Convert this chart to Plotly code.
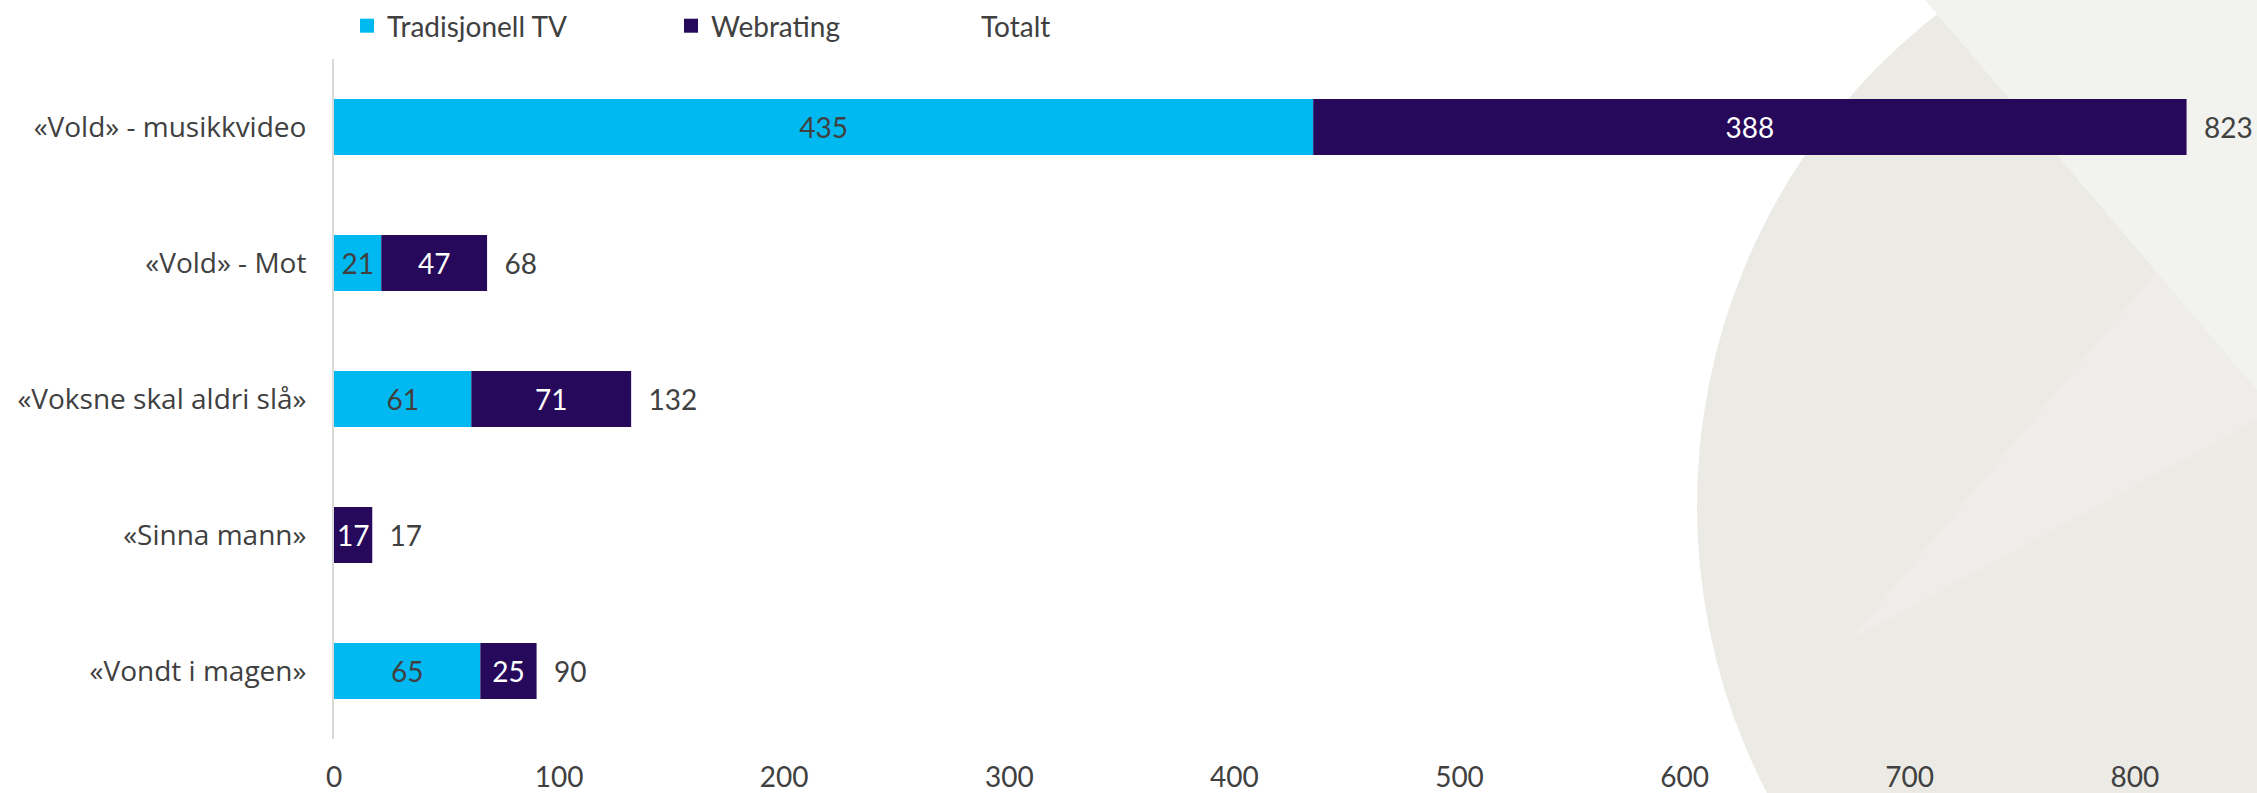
import plotly.graph_objects as go

categories = ["«Vold» - musikkvideo", "«Vold» - Mot", "«Voksne skal aldri slå»", "«Sinna mann»", "«Vondt i magen»"]
tradisjonell_tv = [435, 21, 61, 0, 65]
webrating = [388, 47, 71, 17, 25]
totalt = [823, 68, 132, 17, 90]
x_ticks = [0, 100, 200, 300, 400, 500, 600, 700, 800]

W, H = 2257, 793
L, R, T, B = 334, 0, 59, 54
PW, PH = W - L - R, H - T - B
PX_PER_UNIT = 2.251

def px(x):
    return (x - L) / PW

def py(y):
    return (H - B - y) / PH

TXT = "#404040"
BLUE = "#00B9F1"
PURPLE = "#26095A"
CAL = "Lato, Carlito, Calibri, sans-serif"
SEG = "Open Sans, Segoe UI, sans-serif"

fig = go.Figure()
fig.add_trace(go.Bar(
    y=categories, x=tradisjonell_tv, orientation="h", name="Tradisjonell TV",
    marker=dict(color=BLUE, line=dict(width=0)),
    text=[str(v) if v else "" for v in tradisjonell_tv], textposition="inside",
    insidetextanchor="middle", textfont=dict(family=CAL, size=28, color=TXT),
    showlegend=False,
))
fig.add_trace(go.Bar(
    y=categories, x=webrating, base=tradisjonell_tv, orientation="h", name="Webrating",
    marker=dict(color=PURPLE, line=dict(width=0)),
    text=[str(v) for v in webrating], textposition="inside",
    insidetextanchor="middle", textfont=dict(family=CAL, size=28, color="white"),
    showlegend=False,
))
fig.add_trace(go.Bar(
    y=categories, x=totalt, orientation="h", name="Totalt",
    marker=dict(color="rgba(0,0,0,0)", line=dict(width=0)),
    text=["\u00a0\u00a0" + str(v) for v in totalt], textposition="outside",
    textfont=dict(family=CAL, size=28, color=TXT), cliponaxis=False,
    showlegend=False,
))

# legend entries
fig.add_trace(go.Scatter(x=[None], y=[None], mode="markers", name="Tradisjonell TV",
                         marker=dict(symbol="square", size=14, color=BLUE), legend="legend"))
fig.add_trace(go.Scatter(x=[None], y=[None], mode="markers", name="Webrating",
                         marker=dict(symbol="square", size=14, color=PURPLE), legend="legend2"))
fig.add_trace(go.Scatter(x=[None], y=[None], mode="markers", name="Totalt",
                         marker=dict(symbol="square", size=14, color="rgba(0,0,0,0)"), legend="legend3"))

shapes = [
    dict(type="circle", xref="paper", yref="paper", layer="below",
         x0=px(2321 - 624), x1=px(2321 + 624), y0=py(506 + 624), y1=py(506 - 624),
         fillcolor="#EBEAE5", line=dict(width=0)),
    dict(type="path", xref="paper", yref="paper", layer="below",
         path=f"M {px(2257)} {py(150)} L {px(1850)} {py(640)} L {px(2257)} {py(420)} Z",
         fillcolor="#EEEDE9", line=dict(width=0)),
    dict(type="path", xref="paper", yref="paper", layer="below",
         path=f"M {px(1925)} {py(0)} L {px(2257)} {py(0)} L {px(2257)} {py(390)} Z",
         fillcolor="#F2F2EF", line=dict(width=0)),
]

leg_common = dict(orientation="h", yanchor="middle", xanchor="left", bgcolor="rgba(0,0,0,0)",
                  font=dict(family=CAL, size=28, color=TXT))

fig.update_layout(
    width=W, height=H,
    margin=dict(l=L, r=R, t=T, b=B, autoexpand=False),
    barmode="overlay", bargap=0.59,
    paper_bgcolor="white", plot_bgcolor="rgba(0,0,0,0)",
    shapes=shapes,
    legend=dict(x=px(347), y=py(26), **leg_common),
    legend2=dict(x=px(671), y=py(26), **leg_common),
    legend3=dict(x=px(941), y=py(26), **leg_common),
    xaxis=dict(range=[0, PW / PX_PER_UNIT], tickvals=x_ticks, showgrid=False, zeroline=False,
               showline=False, ticks="", ticklabelstandoff=19, automargin=False,
               tickfont=dict(family=CAL, size=28, color=TXT)),
    yaxis=dict(autorange="reversed", showgrid=False, zeroline=False, showline=True,
               linecolor="#D9D9D9", linewidth=2, ticks="", ticklabelstandoff=20, automargin=False,
               tickfont=dict(family=SEG, size=28, color=TXT)),
    showlegend=True,
)
fig.update_traces(constraintext="none", selector=dict(type="bar"))

fig.write_html("out.html", config={"displayModeBar": False},
               post_script="document.body.style.margin='0';document.body.style.overflow='hidden';")
